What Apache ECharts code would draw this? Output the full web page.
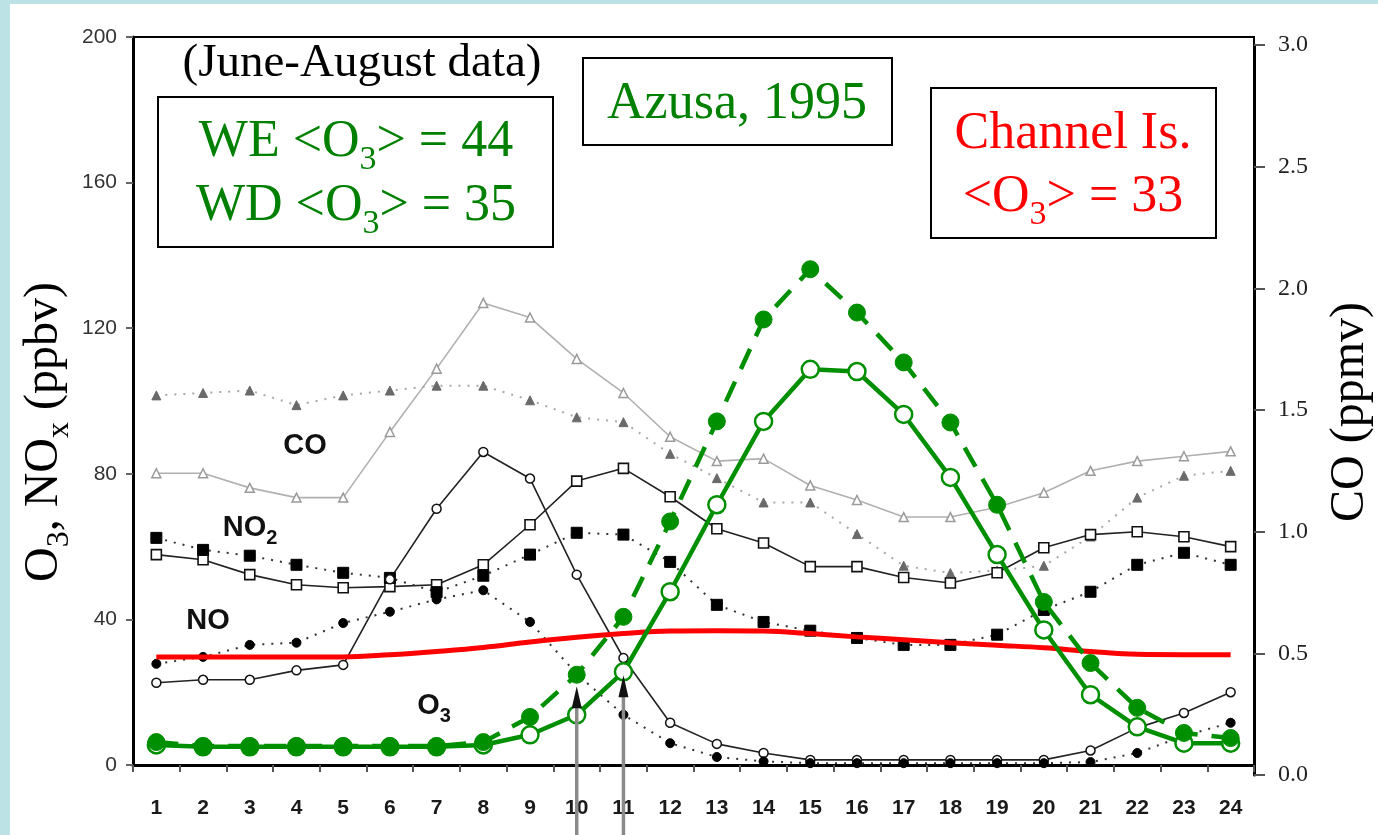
<!DOCTYPE html>
<html>
<head>
<meta charset="utf-8">
<script src="https://cdn.jsdelivr.net/npm/echarts@6/dist/echarts.min.js"></script>
<style>
html,body{margin:0;padding:0;background:#ffffff;}
#chart{width:1378px;height:835px;}
</style>
</head>
<body>
<div id="chart"></div>
<script>
// ---- data ----
const hours = ['1','2','3','4','5','6','7','8','9','10','11','12','13','14','15','16','17','18','19','20','21','22','23','24'];
const leftTicks = [0, 40, 80, 120, 160, 200];
const rightTicks = [0.0, 0.5, 1.0, 1.5, 2.0, 2.5, 3.0];
// CO (ppmv), right axis
const coWeekday = [1.24,1.24,1.18,1.14,1.14,1.41,1.67,1.94,1.88,1.71,1.57,1.39,1.29,1.30,1.19,1.13,1.06,1.06,1.10,1.16,1.25,1.29,1.31,1.33];
const coWeekend = [1.56,1.57,1.58,1.52,1.56,1.58,1.60,1.60,1.54,1.47,1.45,1.32,1.22,1.12,1.12,0.99,0.86,0.83,0.84,0.86,0.98,1.14,1.23,1.25];
// NO2 (ppbv)
const no2Weekday = [57.8,56.4,52.3,49.5,48.7,49,49.5,55,66,78,81.5,73.7,64.9,61,54.5,54.5,51.5,50,52.8,59.7,63.3,64.1,62.7,60];
const no2Weekend = [62.4,59.1,57.5,55,52.8,51.4,47.5,52,57.8,63.8,63.3,55.8,44,39.3,36.9,34.9,33,33,35.8,42.6,47.6,55,58.3,55];
// NO (ppbv)
const noWeekday = [22.6,23.4,23.4,26,27.5,51,70.4,86,78.7,52.3,29.4,11.6,5.8,3.3,1.4,1.4,1.4,1.4,1.4,1.4,4,10.2,14.3,20];
const noWeekend = [27.8,29.7,33,33.6,39,42.1,45.5,48,39.3,25,13.8,6,2.2,1,0.5,0.5,0.5,0.5,0.5,0.5,0.8,3.3,8,11.6];
// O3 Azusa (ppbv)
const o3Weekend = [6.3,5.2,5.2,5.2,5.2,5.2,5.2,6.3,13.2,24.8,40.7,66.9,94.4,122.4,136.2,124.3,110.6,94.1,71.5,44.8,28,15.7,8.8,7.4];
const o3Weekday = [5.5,5,5,5,5,5,5,5.5,8.3,13.8,25.6,47.6,71.5,94.4,108.7,108.1,96.3,79,57.8,37.1,19.3,10.5,6,6];
// O3 Channel Islands (ppbv)
const o3Channel = [29.7,29.7,29.7,29.7,29.7,30.3,31.2,32.3,33.8,35.1,36.1,36.8,36.9,36.8,36.1,35.2,34.4,33.6,32.9,32.2,31.2,30.4,30.3,30.3];
// arrows at hours 10 and 11 (tip values, ppbv)
const arrowHours = ['10', '11'];
const arrowTips = [20, 23];

const GREEN = '#008f00';
const TEXTGREEN = '#008000';
const SERIF = '"Liberation Serif", "Times New Roman", serif';
const SANS = '"Liberation Sans", Arial, sans-serif';

const chart = echarts.init(document.getElementById('chart'), null, {renderer: 'canvas'});

function box(x, y, w, h) {
  return {type: 'rect', shape: {x: x, y: y, width: w, height: h}, style: {fill: '#fff', stroke: '#000', lineWidth: 2}, z: 50};
}
function txt(x, y, text, rich, extra) {
  return Object.assign({type: 'text', x: x, y: y, z: 60,
    style: {text: text, rich: rich, align: 'center', verticalAlign: 'middle'}}, extra || {});
}
function richSet(color, size, subSize, subPad, family, weight) {
  return {
    n: {fontFamily: family || SERIF, fontWeight: weight || 'normal', fontSize: size, fill: color, color: color, lineHeight: size},
    s: {fontFamily: family || SERIF, fontWeight: weight || 'normal', fontSize: subSize, fill: color, color: color,
        lineHeight: 4, verticalAlign: 'top', padding: [subPad, 0, 0, 0]}
  };
}
const richGreen = richSet(TEXTGREEN, 52, 34, 27);
const richRed = richSet('#ff0000', 52, 34, 27);
const richBlack = richSet('#000', 47, 30, 20);
const richAxis = richSet('#000', 48, 32, 24);
const richLbl = richSet('#111', 29, 20, 15, SANS, 'bold');

const staticGraphics = [
  // cyan page border
  {type: 'rect', shape: {x: 0, y: 0, width: 1378, height: 4}, style: {fill: '#bde2e5'}, z: 100},
  {type: 'rect', shape: {x: 0, y: 0, width: 10, height: 835}, style: {fill: '#bde2e5'}, z: 100},
  // annotation boxes
  txt(362, 64, '{n|(June-August data)}', richBlack),
  box(158, 97, 395, 150),
  txt(356, 142, '{n|WE <O}{s|3}{n|> = 44}', richGreen),
  txt(356, 206, '{n|WD <O}{s|3}{n|> = 35}', richGreen),
  box(583, 58, 309, 87),
  txt(737, 104, '{n|Azusa, 1995}', richGreen),
  box(931, 88, 285, 150),
  txt(1073, 134, '{n|Channel Is.}', richRed),
  txt(1073, 197, '{n|<O}{s|3}{n|> = 33}', richRed),
  // axis names
  txt(44, 432, '{n|O}{s|3}{n|, NO}{s|x}{n| (ppbv)}', richAxis, {rotation: Math.PI / 2}),
  txt(1350, 412, '{n|CO (ppmv)}', richAxis, {rotation: Math.PI / 2}),
  // in-plot species labels
  txt(305, 446, '{n|CO}', richLbl),
  txt(250, 528, '{n|NO}{s|2}', richLbl),
  txt(208, 621, '{n|NO}', richLbl),
  txt(434, 706, '{n|O}{s|3}', richLbl)
];

const option = {
  backgroundColor: '#ffffff',
  animation: false,
  grid: [
    {left: 133, right: 124, top: 37, bottom: 70, show: true, borderColor: '#000', borderWidth: 2, backgroundColor: 'transparent'},
    {left: 133, right: 124, top: 45, bottom: 60, show: false}
  ],
  xAxis: [{
    type: 'category', data: hours, boundaryGap: true, gridIndex: 0,
    axisLine: {lineStyle: {color: '#000', width: 3}},
    axisTick: {show: true, length: 7, lineStyle: {color: '#555', width: 2}},
    axisLabel: {margin: 33, fontFamily: SANS, fontSize: 21, fontWeight: 'bold', color: '#1a1a1a'},
    splitLine: {show: false}
  }, {
    type: 'category', data: hours, boundaryGap: true, gridIndex: 1, show: false
  }],
  yAxis: [
    {type: 'value', gridIndex: 0, min: leftTicks[0], max: leftTicks[leftTicks.length - 1], interval: 40,
     axisLine: {show: true, lineStyle: {color: '#000', width: 3}},
     axisTick: {show: true, length: 7, lineStyle: {color: '#666', width: 2}},
     axisLabel: {margin: 16, fontFamily: SANS, fontSize: 21, color: '#333'},
     splitLine: {show: false}},
    {type: 'value', gridIndex: 1, min: rightTicks[0], max: rightTicks[rightTicks.length - 1], interval: 0.5, position: 'right',
     axisLine: {show: true, lineStyle: {color: '#000', width: 3}},
     axisTick: {show: true, length: 11, lineStyle: {color: '#555', width: 2}},
     axisLabel: {margin: 24, fontFamily: SERIF, fontSize: 24, color: '#222', formatter: v => v.toFixed(1)},
     splitLine: {show: false}}
  ],
  series: [
    {name: 'CO weekday', type: 'line', xAxisIndex: 1, yAxisIndex: 1, data: coWeekday, symbol: 'triangle', symbolSize: 9,
     lineStyle: {color: '#b0b0b0', width: 1.6}, itemStyle: {color: '#fff', borderColor: '#9a9a9a', borderWidth: 1.5}, z: 2},
    {name: 'CO weekend', type: 'line', xAxisIndex: 1, yAxisIndex: 1, data: coWeekend, symbol: 'triangle', symbolSize: 9,
     lineStyle: {color: '#a8a8a8', width: 2, type: [2, 7]}, itemStyle: {color: '#6a6a6a', borderColor: '#6a6a6a', borderWidth: 1}, z: 2},
    {name: 'NO2 weekday', type: 'line', data: no2Weekday, symbol: 'rect', symbolSize: 10,
     lineStyle: {color: '#222', width: 1.6}, itemStyle: {color: '#fff', borderColor: '#111', borderWidth: 1.6}, z: 3},
    {name: 'NO2 weekend', type: 'line', data: no2Weekend, symbol: 'rect', symbolSize: 11,
     lineStyle: {color: '#333', width: 2, type: [2, 7]}, itemStyle: {color: '#000', borderColor: '#000', borderWidth: 1}, z: 3},
    {name: 'NO weekday', type: 'line', data: noWeekday, symbol: 'circle', symbolSize: 9,
     lineStyle: {color: '#222', width: 1.6}, itemStyle: {color: '#fff', borderColor: '#111', borderWidth: 1.5}, z: 3},
    {name: 'NO weekend', type: 'line', data: noWeekend, symbol: 'circle', symbolSize: 9,
     lineStyle: {color: '#333', width: 2, type: [2, 7]}, itemStyle: {color: '#000', borderColor: '#000', borderWidth: 1}, z: 3},
    {name: 'O3 Channel Is.', type: 'line', data: o3Channel, smooth: 0.4, symbol: 'none',
     lineStyle: {color: '#ff0000', width: 5}, z: 4},
    {name: 'O3 Azusa weekday', type: 'line', data: o3Weekday, symbol: 'circle', symbolSize: 17,
     lineStyle: {color: GREEN, width: 4.5}, itemStyle: {color: '#fff', borderColor: GREEN, borderWidth: 2.5}, z: 5},
    {name: 'O3 Azusa weekend', type: 'line', data: o3Weekend, symbol: 'circle', symbolSize: 17,
     lineStyle: {color: GREEN, width: 4.5, type: [22, 14]}, itemStyle: {color: GREEN, borderColor: GREEN, borderWidth: 1}, z: 6}
  ],
  graphic: staticGraphics
};
chart.setOption(option);

// arrows below hours 10 and 11, positioned through the axes
const arrowGraphics = arrowHours.map(function (h, i) {
  const p = chart.convertToPixel({xAxisIndex: 0, yAxisIndex: 0}, [h, arrowTips[i]]);
  const x = p[0], y = p[1];
  return {type: 'group', z: 7, children: [
    {type: 'line', shape: {x1: x, y1: y + 10, x2: x, y2: 835}, style: {stroke: '#8a8a8a', lineWidth: 3.5}, z: 7},
    {type: 'polygon', shape: {points: [[x, y - 6], [x - 5, y + 16], [x + 5, y + 16]]}, style: {fill: '#111'}, z: 8}
  ]};
});
chart.setOption({graphic: staticGraphics.concat(arrowGraphics)});
</script>
</body>
</html>
